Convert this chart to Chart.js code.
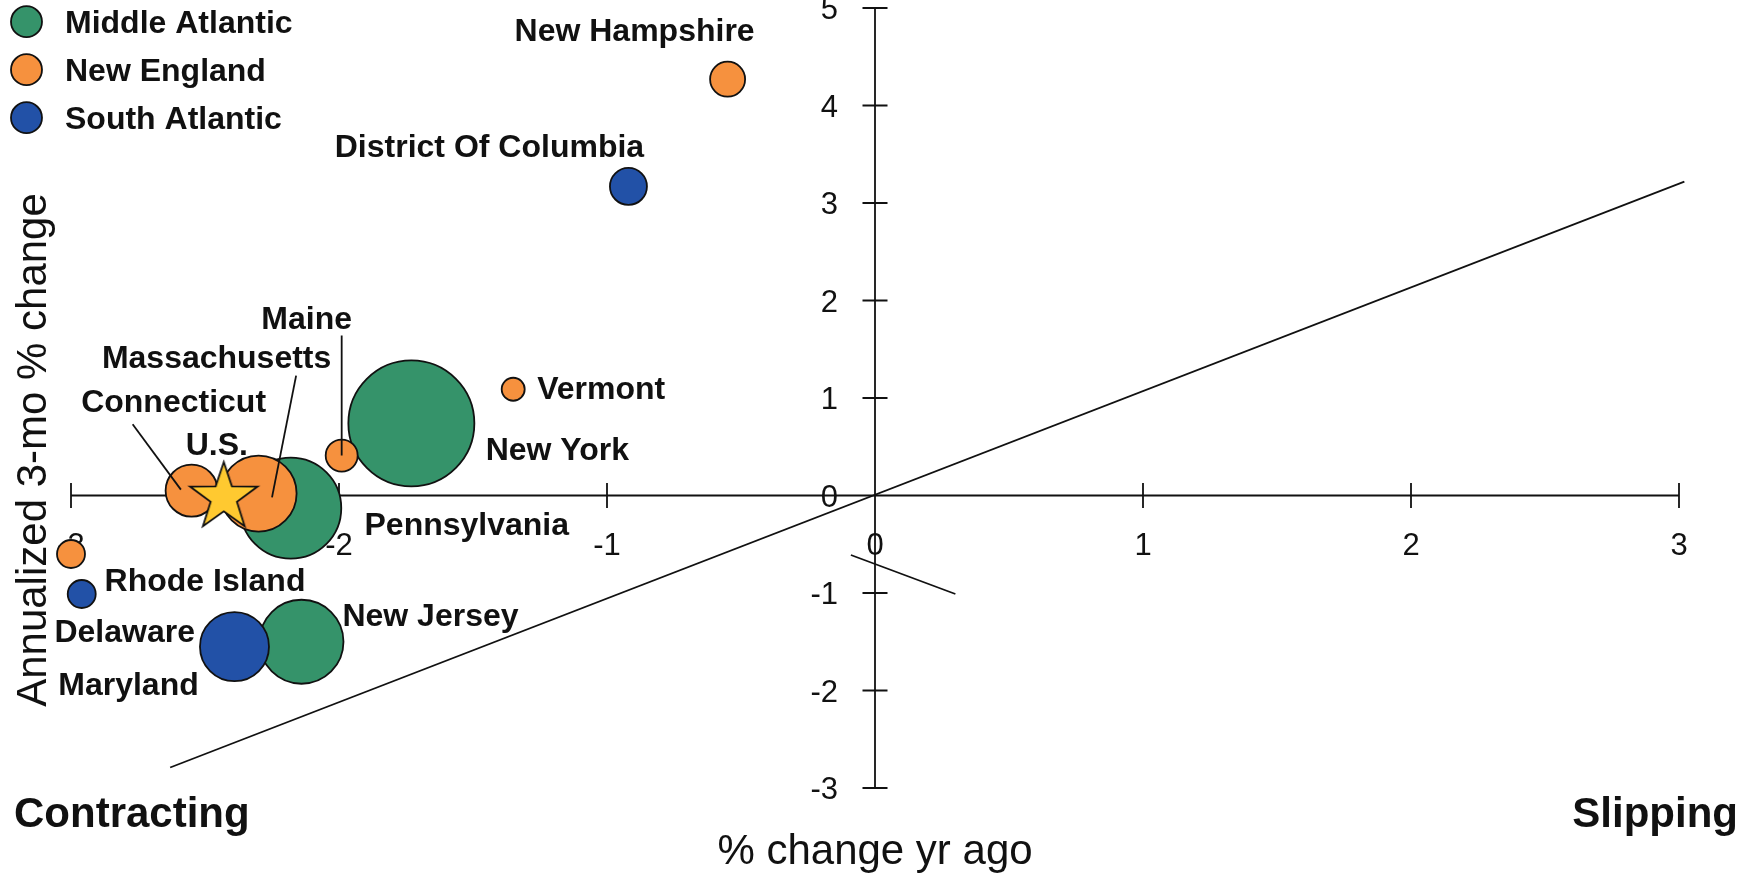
<!DOCTYPE html>
<html>
<head>
<meta charset="utf-8">
<title>Regional employment growth</title>
<script src="https://cdn.jsdelivr.net/npm/chart.js@4.4.1/dist/chart.umd.min.js"></script>
<style>
    html, body { margin: 0; padding: 0; background: #ffffff; }
    canvas { display: block; }
</style>
</head>
<body>
<canvas id="myChart" width="1754" height="873"></canvas>
<script>
// ******** DATA ********

const regionNames = ['Middle Atlantic', 'New England', 'South Atlantic'];
const regionColors = ['#35936A', '#F6913E', '#2251A7'];

// x = % change yr ago, y = annualized 3-mo % change, size = bubble radius
const middleAtlanticStates = ['New York', 'Pennsylvania', 'New Jersey'];
const middleAtlanticYrAgo = [-1.73, -2.18, -2.14];
const middleAtlantic3mo = [0.74, -0.13, -1.50];
const middleAtlanticSize = [63, 50.5, 42];

const newEnglandStates = ['New Hampshire', 'Vermont', 'Maine', 'Massachusetts', 'Connecticut', 'Rhode Island'];
const newEnglandYrAgo = [-0.55, -1.35, -1.99, -2.30, -2.55, -3.00];
const newEngland3mo = [4.27, 1.09, 0.41, 0.02, 0.05, -0.60];
const newEnglandSize = [17.5, 11.5, 16, 38, 26, 14];

const southAtlanticStates = ['District Of Columbia', 'Delaware', 'Maryland'];
const southAtlanticYrAgo = [-0.92, -2.96, -2.39];
const southAtlantic3mo = [3.17, -1.01, -1.55];
const southAtlanticSize = [18.5, 14, 34.5];

const usYrAgo = [-2.43];
const us3mo = [-0.02];

const xTicks = [-3, -2, -1, 0, 1, 2, 3];
const yTicks = [-3, -2, -1, 0, 1, 2, 3, 4, 5];

// reference line through the origin and the short stray segment
const refLineX = [-2.63, 3.02];
const refLineY = [-2.79, 3.22];
const strayLineX = [-0.09, 0.30];
const strayLineY = [-0.61, -1.01];

// label leader lines (Connecticut, Massachusetts, Maine)
const leaderX = [[-2.77, -2.59], [-2.16, -2.25], [-1.99, -1.99]];
const leaderY = [[0.73, 0.06], [1.23, -0.02], [1.64, 0.41]];

// label placement, pixels from the marker centre (not data)
const labelOffsets = {
    'New York': [146, 25],
    'Pennsylvania': [176, 15],
    'New Jersey': [129, -27],
    'New Hampshire': [-93, -50],
    'Vermont': [88, -2],
    'Maine': [-35, -138],
    'Massachusetts': [-42, -137],
    'Connecticut': [-18, -90],
    'Rhode Island': [134, 25],
    'District Of Columbia': [-139, -41],
    'Delaware': [43, 37],
    'Maryland': [-106, 37],
    'U.S.': [-7, -54]
};

const FONT = '"Liberation Sans", Arial, Helvetica, sans-serif';

const makeBubbles = (xs, ys, sizes) => xs.map((x, i) => ({ x: x, y: ys[i], r: sizes[i] }));
const makeLine = (xs, ys) => xs.map((x, i) => ({ x: x, y: ys[i] }));

// star marker for the U.S.
function makeStar(R) {
    const c = document.createElement('canvas');
    const s = Math.ceil(2 * R + 6);
    c.width = s;
    c.height = s;
    const g = c.getContext('2d');
    g.beginPath();
    for (let i = 0; i < 10; i++) {
        const rad = i % 2 === 0 ? R : R * 0.39;
        const a = -Math.PI / 2 + i * Math.PI / 5;
        g.lineTo(s / 2 + rad * Math.cos(a), s / 2 + rad * Math.sin(a));
    }
    g.closePath();
    g.fillStyle = '#FFC930';
    g.fill();
    g.lineWidth = 1.8;
    g.lineJoin = 'miter';
    g.strokeStyle = '#111111';
    g.stroke();
    return c;
}
const starImage = makeStar(35.5);

const lineDataset = (xs, ys, order) => ({
    type: 'scatter',
    data: makeLine(xs, ys),
    showLine: true,
    borderColor: '#111111',
    borderWidth: 1.8,
    pointRadius: 0,
    fill: false,
    clip: false,
    order: order
});

// ******** PLUGINS ********

// axes crossing at the origin, tick marks across the axis, tick labels
const crossAxesPlugin = {
    id: 'crossAxes',
    beforeDatasetsDraw(chart) {
        const { ctx, scales } = chart;
        const x0 = scales.x.getPixelForValue(0);
        const y0 = scales.y.getPixelForValue(0);
        ctx.save();
        ctx.strokeStyle = '#111111';
        ctx.lineWidth = 1.8;
        ctx.beginPath();
        ctx.moveTo(scales.x.getPixelForValue(xTicks[0]), y0);
        ctx.lineTo(scales.x.getPixelForValue(xTicks[xTicks.length - 1]), y0);
        ctx.moveTo(x0, scales.y.getPixelForValue(yTicks[yTicks.length - 1]));
        ctx.lineTo(x0, scales.y.getPixelForValue(yTicks[0]));
        xTicks.forEach(t => {
            const px = scales.x.getPixelForValue(t);
            ctx.moveTo(px, y0 - 12.5);
            ctx.lineTo(px, y0 + 12.5);
        });
        yTicks.forEach(t => {
            const py = scales.y.getPixelForValue(t);
            ctx.moveTo(x0 - 12.5, py);
            ctx.lineTo(x0 + 12.5, py);
        });
        ctx.stroke();

        ctx.fillStyle = '#111111';
        ctx.font = '31px ' + FONT;
        ctx.textBaseline = 'alphabetic';
        ctx.textAlign = 'center';
        xTicks.forEach(t => {
            ctx.fillText(String(t), scales.x.getPixelForValue(t), y0 + 59);
        });
        ctx.textAlign = 'right';
        yTicks.forEach(t => {
            ctx.fillText(String(t), x0 - 37, scales.y.getPixelForValue(t) + 11);
        });
        ctx.restore();
    }
};

// state names next to each marker
const stateLabelPlugin = {
    id: 'stateLabels',
    afterDatasetsDraw(chart) {
        const ctx = chart.ctx;
        ctx.save();
        ctx.fillStyle = '#111111';
        ctx.font = 'bold 32px ' + FONT;
        ctx.textAlign = 'center';
        ctx.textBaseline = 'alphabetic';
        chart.data.datasets.forEach((ds, i) => {
            if (!ds.names) return;
            const meta = chart.getDatasetMeta(i);
            meta.data.forEach((pt, j) => {
                const name = ds.names[j];
                const off = labelOffsets[name] || [0, 0];
                ctx.fillText(name, pt.x + off[0], pt.y + off[1] + 11.5);
            });
        });
        ctx.restore();
    }
};

// legend, axis titles and corner captions
const textPlugin = {
    id: 'chartText',
    afterDraw(chart) {
        const { ctx, chartArea } = chart;
        ctx.save();
        ctx.fillStyle = '#111111';
        ctx.textBaseline = 'alphabetic';

        // legend
        ctx.font = 'bold 32px ' + FONT;
        ctx.textAlign = 'left';
        regionNames.forEach((name, i) => {
            const cy = 21.7 + i * 48;
            ctx.beginPath();
            ctx.arc(26.5, cy, 15.5, 0, Math.PI * 2);
            ctx.fillStyle = regionColors[i];
            ctx.fill();
            ctx.lineWidth = 1.8;
            ctx.strokeStyle = '#111111';
            ctx.stroke();
            ctx.fillStyle = '#111111';
            ctx.fillText(name, 65, cy + 11.5);
        });

        // axis titles
        ctx.font = '42px ' + FONT;
        ctx.textAlign = 'center';
        ctx.fillText('% change yr ago', (chartArea.left + chartArea.right) / 2, 864);
        ctx.save();
        ctx.translate(46, 450);
        ctx.rotate(-Math.PI / 2);
        ctx.fillText('Annualized 3-mo % change', 0, 0);
        ctx.restore();

        // corner captions
        ctx.font = 'bold 42px ' + FONT;
        ctx.textAlign = 'left';
        ctx.fillText('Contracting', 14, 827);
        ctx.textAlign = 'right';
        ctx.fillText('Slipping', 1738, 827);
        ctx.restore();
    }
};

// ******** CHART ********

const ctx = document.getElementById('myChart');

const myChartView = new Chart(ctx, {
    type: 'bubble',
    data: {
        datasets: [
            lineDataset(refLineX, refLineY, 10),
            lineDataset(strayLineX, strayLineY, 10),
            {
                label: regionNames[0],
                names: middleAtlanticStates,
                data: makeBubbles(middleAtlanticYrAgo, middleAtlantic3mo, middleAtlanticSize),
                backgroundColor: regionColors[0],
                borderColor: '#111111',
                borderWidth: 1.8,
                clip: false,
                order: 6
            },
            {
                label: regionNames[1],
                names: newEnglandStates,
                data: makeBubbles(newEnglandYrAgo, newEngland3mo, newEnglandSize),
                backgroundColor: regionColors[1],
                borderColor: '#111111',
                borderWidth: 1.8,
                clip: false,
                order: 5
            },
            {
                label: regionNames[2],
                names: southAtlanticStates,
                data: makeBubbles(southAtlanticYrAgo, southAtlantic3mo, southAtlanticSize),
                backgroundColor: regionColors[2],
                borderColor: '#111111',
                borderWidth: 1.8,
                clip: false,
                order: 5
            },
            {
                type: 'scatter',
                label: 'U.S.',
                names: ['U.S.'],
                data: makeLine(usYrAgo, us3mo),
                pointStyle: starImage,
                pointRadius: 36,
                showLine: false,
                clip: false,
                order: 3
            },
            lineDataset(leaderX[0], leaderY[0], 1),
            lineDataset(leaderX[1], leaderY[1], 1),
            lineDataset(leaderX[2], leaderY[2], 1)
        ]
    },
    options: {
        responsive: false,
        animation: false,
        events: [],
        layout: {
            autoPadding: false,
            padding: { left: 71, right: 75, top: 8, bottom: 85 }
        },
        plugins: {
            legend: { display: false },
            tooltip: { enabled: false }
        },
        scales: {
            x: {
                type: 'linear',
                min: -3,
                max: 3,
                display: false
            },
            y: {
                type: 'linear',
                min: -3,
                max: 5,
                display: false
            }
        }
    },
    plugins: [crossAxesPlugin, stateLabelPlugin, textPlugin]
});
</script>
</body>
</html>
